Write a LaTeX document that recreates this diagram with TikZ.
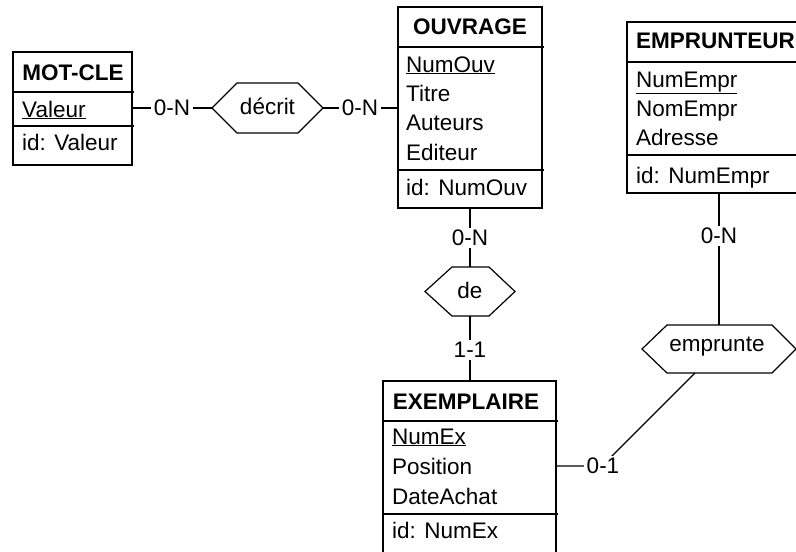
\documentclass[tikz,border=0pt]{standalone}
\usepackage{fontspec}
\setmainfont{Liberation Sans}
\begin{document}
\begin{tikzpicture}[x=1pt,y=-1pt,
  frame/.style={draw, line width=1.2pt},
  rule/.style={draw, line width=1.2pt},
  link/.style={draw, line width=1.1pt},
  txt/.style={anchor=base west, inner sep=0pt, font=\fontsize{22.5}{27}\selectfont},
  head/.style={anchor=base, inner sep=0pt, font=\fontsize{22.5}{27}\selectfont\bfseries},
  card/.style={fill=white, inner sep=2.5pt, font=\fontsize{22.5}{27}\selectfont},
  relname/.style={inner sep=0pt, font=\fontsize{22.5}{27}\selectfont}]
\useasboundingbox (0,0) rectangle (796,552);
\clip (0,0) rectangle (796,552);

% ---------- entity MOT-CLE ----------
\draw[frame] (13,52) rectangle (132,165);
\draw[rule] (13,92) -- (134,92);
\draw[rule] (13,126) -- (134,126);
\node[head] (mcHead) at (73,80) {MOT-CLE};
\node[txt] (mcVal) at (22,117) {\underline{Valeur}};
\node[txt] (mcId) at (22,150) {id: Valeur};
\coordinate (mcR) at (132,108);

% ---------- entity OUVRAGE ----------
\draw[frame] (398,7) rectangle (542,208);
\draw[rule] (398,47) -- (544,47);
\draw[rule] (398,170) -- (544,170);
\node[head] (ouHead) at (470,34) {OUVRAGE};
\node[txt] (ouNum) at (406,72) {\underline{NumOuv}};
\node[txt] (ouTit) at (406,101) {Titre};
\node[txt] (ouAut) at (406,130.5) {Auteurs};
\node[txt] (ouEdi) at (406,160) {Editeur};
\node[txt] (ouId) at (406,195) {id: NumOuv};
\coordinate (ouL) at (398,108);
\coordinate (ouB) at (470,208);

% ---------- entity EMPRUNTEUR ----------
\draw[frame] (627,22) rectangle (806,193);
\draw[rule] (627,62) -- (806,62);
\draw[rule] (627,155) -- (806,155);
\node[txt, font=\fontsize{22.5}{27}\selectfont\bfseries] (emHead) at (636,48) {EMPRUNTEUR};
\node[txt] (emNum) at (636,87) {\underline{NumEmpr}};
\node[txt] (emNom) at (636,116) {NomEmpr};
\node[txt] (emAdr) at (636,145) {Adresse};
\node[txt] (emId) at (636,183) {id: NumEmpr};
\coordinate (emB) at (719,193);

% ---------- entity EXEMPLAIRE ----------
\draw[frame] (383,381) rectangle (556,570);
\draw[rule] (383,421) -- (558,421);
\draw[rule] (383,514) -- (558,514);
\node[head] (exHead) at (466,409) {EXEMPLAIRE};
\node[txt] (exNum) at (392,444) {\underline{NumEx}};
\node[txt] (exPos) at (392,474) {Position};
\node[txt] (exDat) at (392,504) {DateAchat};
\node[txt] (exId) at (392,538) {id: NumEx};
\coordinate (exT) at (470,381);
\coordinate (exR) at (556,466);

% ---------- relationship "décrit" ----------
\coordinate (deL) at (212,108);
\coordinate (deR) at (323,108);
\draw[frame] (deL) -- (237,83) -- (298,83) -- (deR) -- (298,133) -- (237,133) -- cycle;
\node[relname] (decrit) at (267.5,106) {décrit};

% ---------- relationship "de" ----------
\coordinate (deT) at (470,267);
\coordinate (deB) at (470,316);
\draw[frame] (425,291.5) -- (452,267) -- (489,267) -- (515,291.5) -- (489,316) -- (452,316) -- cycle;
\node[relname] (de) at (470,290) {de};

% ---------- relationship "emprunte" ----------
\coordinate (emprT) at (719,325);
\coordinate (emprB) at (695,373);
\draw[frame] (642,349) -- (667,325) -- (772,325) -- (796,349) -- (772,373) -- (667,373) -- cycle;
\node[relname] (emprunte) at (717,347) {emprunte};

% ---------- connectors ----------
\draw[link] (mcR) -- (deL);
\draw[link] (deR) -- (ouL);
\draw[link] (ouB) -- (deT);
\draw[link] (deB) -- (exT);
\draw[link] (emB) -- (emprT);
\coordinate (bend) at (602,466);
\draw[link] (emprB) -- (bend) -- (exR);

% ---------- cardinalities ----------
\node[card] (c1) at (172,108) {0-N};
\node[card] (c2) at (360,108) {0-N};
\node[card] (c3) at (470,238) {0-N};
\node[card] (c4) at (470,350) {1-1};
\node[card] (c5) at (719,236) {0-N};
\node[card] (c6) at (603,466) {0-1};
\end{tikzpicture}
\end{document}
